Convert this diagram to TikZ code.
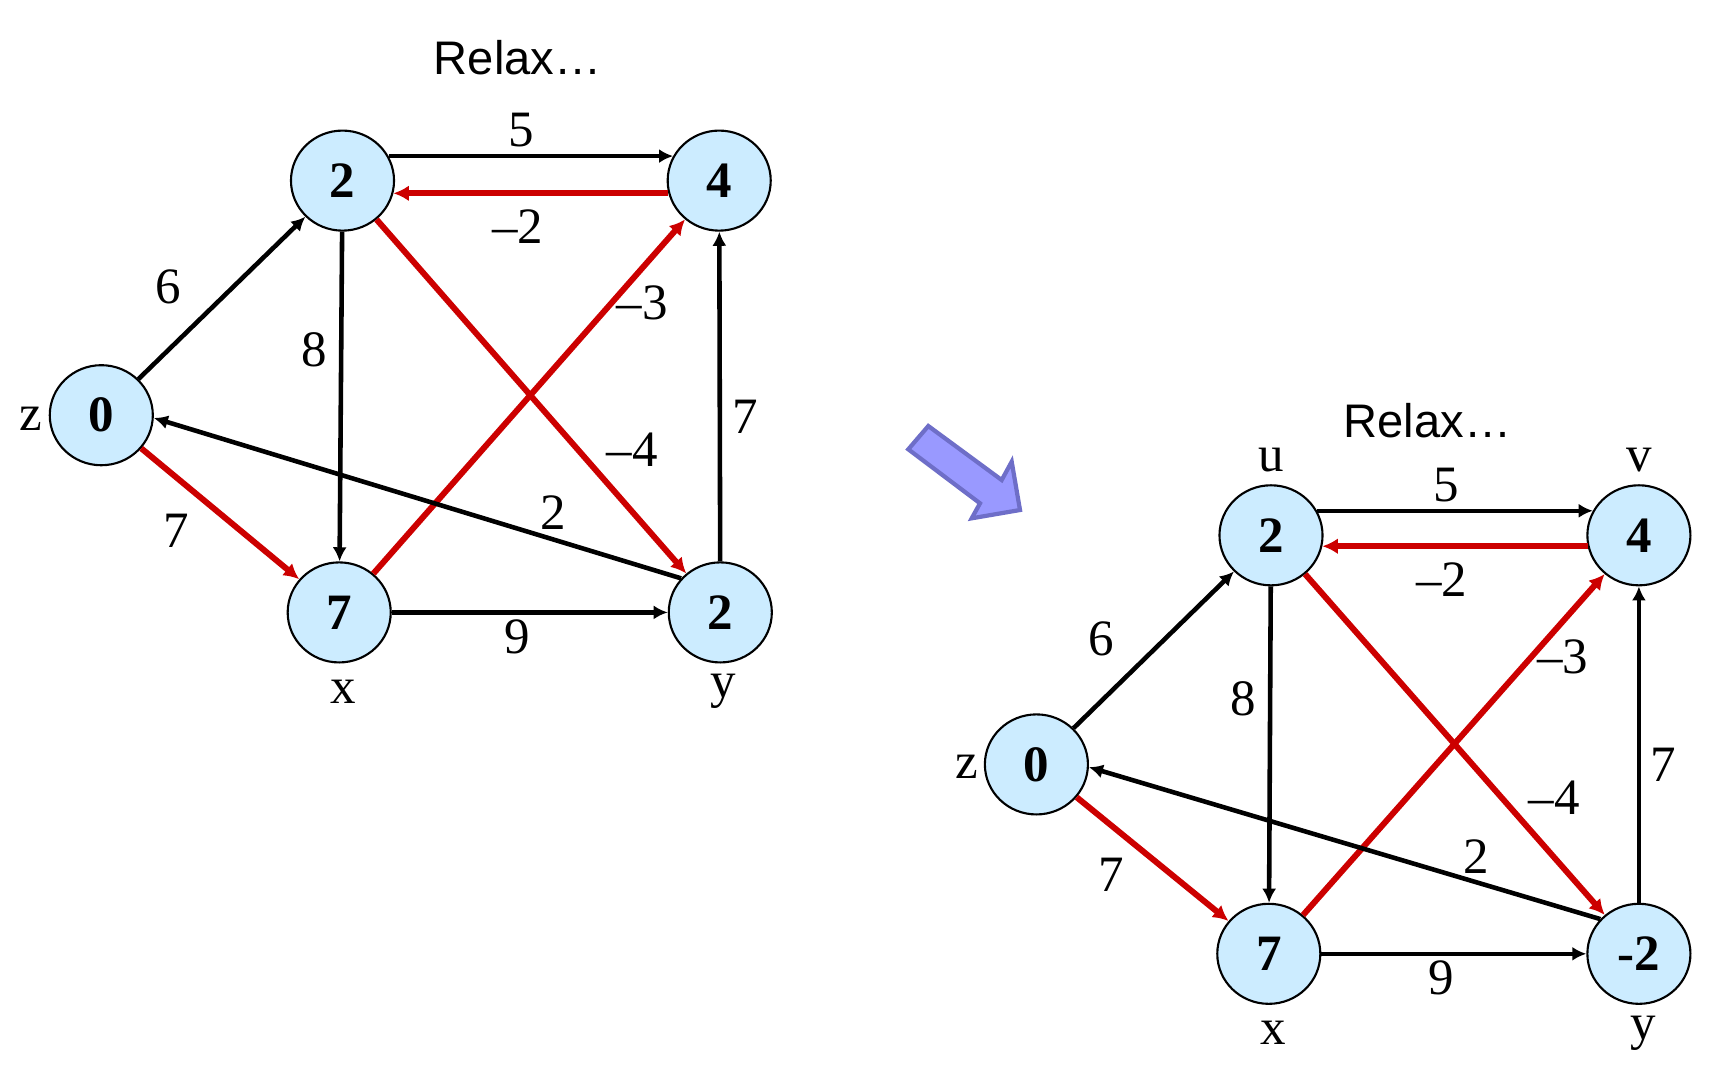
\documentclass[tikz,border=0pt]{standalone}
\usepackage{fontspec}
\setmainfont{Liberation Serif}
\newfontfamily\sansf{Liberation Sans}
\usetikzlibrary{shapes.geometric,arrows.meta}
\definecolor{nodeblue}{RGB}{204,236,255}
\definecolor{redge}{RGB}{204,0,0}
\definecolor{arrfill}{RGB}{153,153,255}
\definecolor{arrdraw}{RGB}{110,110,200}
\tikzset{
  vtx/.style={ellipse,draw=black,line width=0.6pt,fill=nodeblue,minimum width=1.03cm,minimum height=1.0cm,inner sep=0pt,font=\bfseries\fontsize{14.5}{16}\selectfont},
  lbl/.style={inner sep=0pt,font=\fontsize{14.5}{16}\selectfont},
  ttl/.style={inner sep=0pt,font=\sansf\fontsize{13.4}{16}\selectfont},
  blk/.style={draw=black,line width=1.3pt,-{Latex[length=4pt,width=4pt]}},
  red/.style={draw=redge,line width=1.7pt,-{Latex[length=4.4pt,width=4.5pt]}},
  bigarrow/.style={fill=arrfill,draw=arrdraw,line width=1.2pt,line join=miter}
}
\begin{document}
\begin{tikzpicture}[x=0.01cm,y=-0.01cm]
\useasboundingbox (0,0) rectangle (1727,1090);
% ---------- left graph ----------
\node[ttl] (t1) at (517.7,57.3) {Relax…};
\node[vtx] (u1) at (342.5,180.6) {2};
\node[vtx] (v1) at (719.2,180.6) {4};
\node[vtx] (z1) at (101.3,415.2) {0};
\node[vtx] (x1) at (339.2,612.4) {7};
\node[vtx] (y1) at (720.3,612.4) {2};
\node[lbl] (z1n) at (30.8,418.5) {z};
\node[lbl] (x1n) at (343.6,691.7) {x};
\node[lbl] (y1n) at (723.6,691.7) {y};
\draw[blk] (u1.28) -- (v1.152);
\draw[red] (v1.194) -- (u1.-14);
\draw[blk] (z1) -- (u1);
\draw[blk] (u1) -- (x1);
\draw[red] (u1) -- (y1);
\draw[red] (x1) -- (v1);
\draw[blk] (y1) -- (v1);
\draw[blk] (y1.139) -- (z1.-3);
\draw[red] (z1) -- (x1);
\draw[blk] (x1) -- (y1);
\node[lbl] (a1) at (521,130) {5};
\node[lbl] (b1) at (517.7,226.9) {–2};
\node[lbl] (c1) at (168.5,286.4) {6};
\node[lbl] (d1) at (313.9,350.2) {8};
\node[lbl] (e1) at (642.1,302.9) {–3};
\node[lbl] (f1) at (745.6,416.3) {7};
\node[lbl] (g1) at (632.2,449.4) {–4};
\node[lbl] (h1) at (552.9,512.2) {2};
\node[lbl] (i1) at (176.2,530.9) {7};
\node[lbl] (j1) at (517.7,636.6) {9};
% ---------- big arrow ----------
\draw[bigarrow] (928.3,426) -- (1001.7,480) -- (1011.7,461.7) -- (1020,510) -- (971.7,518.3) -- (980,503.3) -- (908.3,449.3) -- cycle;
% ---------- right graph ----------
\node[ttl] (t2) at (1427.4,420.7) {Relax…};
\node[vtx] (u2) at (1271,535.3) {2};
\node[vtx] (v2) at (1638.9,535.3) {4};
\node[vtx] (z2) at (1036.4,764.4) {0};
\node[vtx] (x2) at (1268.8,953.8) {7};
\node[vtx] (y2) at (1638.9,953.8) {-2};
\node[lbl] (u2n) at (1271,460.4) {u};
\node[lbl] (v2n) at (1638.9,460.4) {v};
\node[lbl] (z2n) at (967,766.6) {z};
\node[lbl] (x2n) at (1273.2,1033.1) {x};
\node[lbl] (y2n) at (1643.3,1033.1) {y};
\draw[blk] (u2.28) -- (v2.152);
\draw[red] (v2.192) -- (u2.-12);
\draw[blk] (z2) -- (u2);
\draw[blk] (u2) -- (x2);
\draw[red] (u2) -- (y2);
\draw[red] (x2) -- (v2);
\draw[blk] (y2) -- (v2);
\draw[blk] (y2.138) -- (z2.-3);
\draw[red] (z2) -- (x2);
\draw[blk] (x2) -- (y2);
\node[lbl] (a2) at (1446.1,484.6) {5};
\node[lbl] (b2) at (1441.7,579.3) {–2};
\node[lbl] (c2) at (1101.4,638.8) {6};
\node[lbl] (d2) at (1243.5,698.3) {8};
\node[lbl] (e2) at (1562.9,656.4) {–3};
\node[lbl] (f2) at (1663,764.4) {7};
\node[lbl] (g2) at (1554.1,797.4) {–4};
\node[lbl] (h2) at (1475.9,856.9) {2};
\node[lbl] (i2) at (1111.3,874.5) {7};
\node[lbl] (j2) at (1441.7,978) {9};
\end{tikzpicture}
\end{document}
